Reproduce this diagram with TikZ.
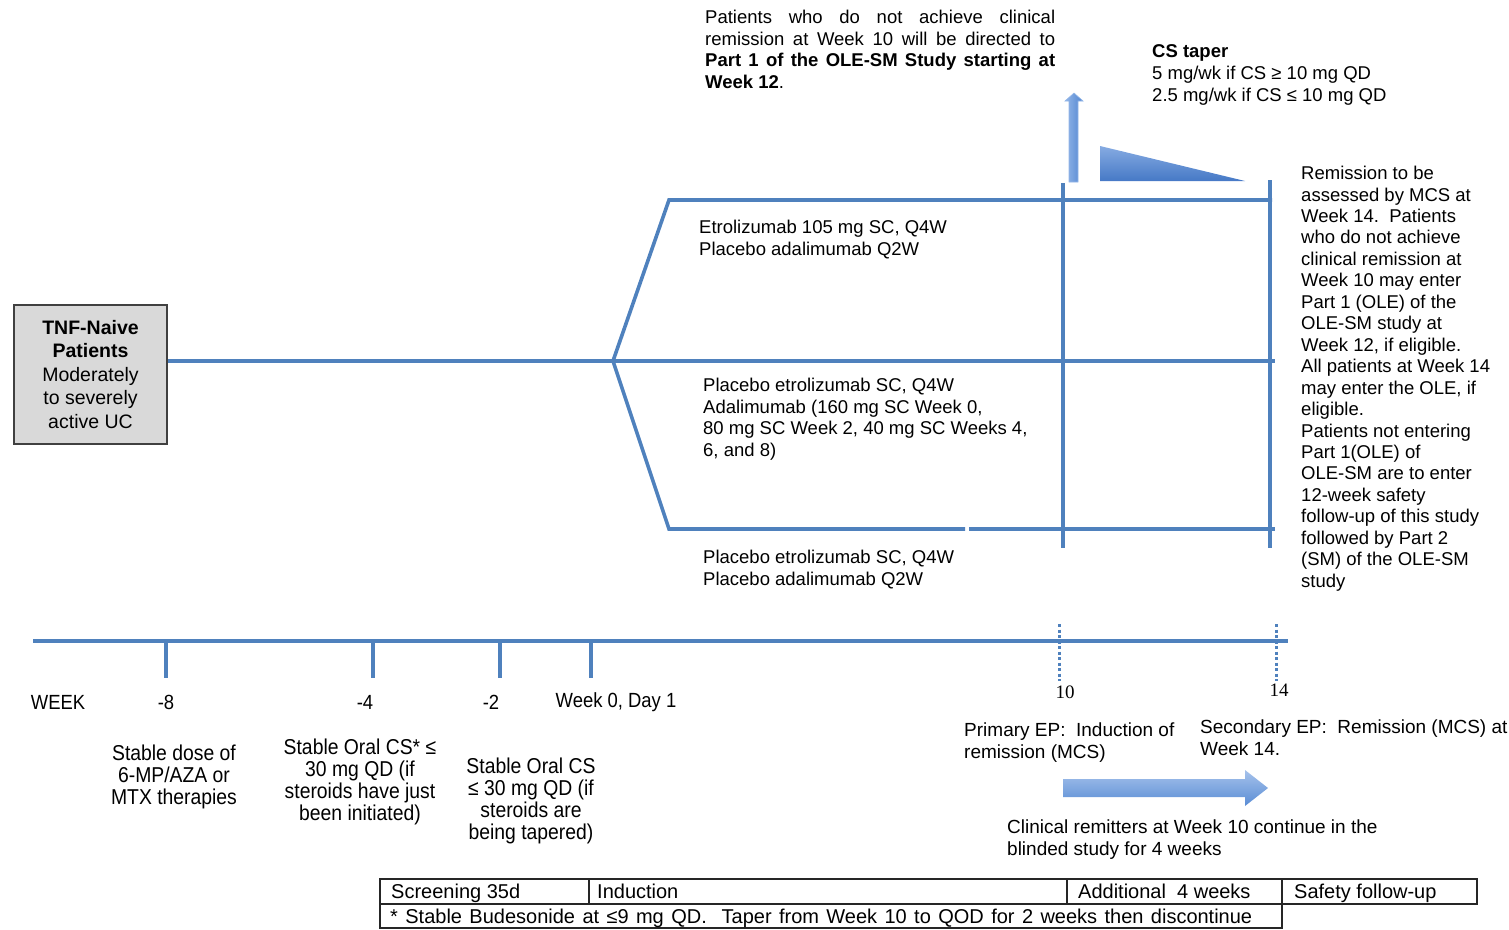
\documentclass[tikz,border=0pt]{standalone}
\usepackage{fontspec}
\setmainfont{Liberation Sans}
\newfontfamily\narrowfont[FakeStretch=0.9]{Liberation Sans}
\newfontfamily\numfont{Liberation Serif}
\definecolor{lineblue}{HTML}{4F81BD}
\definecolor{lightblue}{HTML}{A9C5EA}
\definecolor{arrowtop}{HTML}{A6C2EB}
\definecolor{arrowbot}{HTML}{5A8DD5}
\definecolor{uparrowl}{HTML}{93B6E8}
\definecolor{uparrowr}{HTML}{4F84D0}
\definecolor{tritop}{HTML}{86ABE2}
\definecolor{tribot}{HTML}{4679C6}
\definecolor{boxgray}{HTML}{D9D9D9}
\begin{document}
\begin{tikzpicture}[x=1pt,y=-1pt,
  blueline/.style={draw=lineblue, line width=3.6pt},
  maintext/.style={font=\fontsize{18.5}{21.6}\selectfont, align=left, inner sep=0pt, anchor=north west},
  ticklabel/.style={font=\narrowfont\fontsize{20.5}{22}\selectfont, inner sep=0pt},
  desc/.style={font=\narrowfont\fontsize{21.5}{22}\selectfont, align=center, inner sep=0pt},
  eptext/.style={font=\fontsize{19}{22}\selectfont, align=left, inner sep=0pt, anchor=west},
  tabline/.style={draw=black!85, line width=1.4pt},
  tabtext/.style={font=\fontsize{20}{24}\selectfont, inner sep=0pt, anchor=base west},
]
\useasboundingbox (0,0) rectangle (1509,929);

% ---------- patient box ----------
\node[draw=black!75, line width=1.5pt, fill=boxgray, minimum width=153pt, minimum height=139pt,
      align=center, inner sep=0pt, font=\fontsize{19.5}{23.5}\selectfont] (tnf) at (90.5,374.5)
  {\textbf{TNF-Naive}\\\textbf{Patients}\\Moderately\\to severely\\active UC};

% ---------- arms ----------
\coordinate (split) at (613,361);
\coordinate (up1) at (669,200);
\coordinate (up2) at (1272,200);
\coordinate (mid2) at (1275,361);
\coordinate (lo1) at (669,529);
\coordinate (lo2) at (1275,529);
\coordinate (gapl) at (965,529);
\coordinate (gapr) at (969,529);
\draw[blueline] (tnf.east |- split) -- (split);
\draw[blueline, line join=miter] (split) -- (up1) -- (up2);
\draw[blueline] (split) -- (mid2);
\draw[blueline, line join=miter] (split) -- (lo1) -- (gapl);
\draw[blueline] (gapr) -- (lo2);
\coordinate (v10t) at (1063,183);
\coordinate (v10b) at (1063,548);
\coordinate (v14t) at (1270,180);
\coordinate (v14b) at (1270,548);
\draw[blueline] (v10t) -- (v10b);
\draw[blueline] (v14t) -- (v14b);

% up arrow
\shade[left color=uparrowl, right color=uparrowr, draw=uparrowl, line width=0.6pt]
  (1069,182) -- (1069,101) -- (1065,101) -- (1074,93) -- (1083,101) -- (1078,101) -- (1078,182) -- cycle;
% taper triangle
\shade[top color=tritop, bottom color=tribot]
  (1100,146) -- (1245,181) -- (1100,181) -- cycle;

% ---------- texts top ----------
\node[maintext, text width=350pt, align=justify] (topnote) at (705,10)
  {Patients who do not achieve clinical\linebreak remission at Week 10 will be directed to\linebreak
   \textbf{Part 1 of the OLE-SM Study starting at}\linebreak \textbf{Week 12}.};
\node[maintext, font=\fontsize{18.5}{22}\selectfont] (taper) at (1152,44)
  {\textbf{CS taper}\\5 mg/wk if CS ≥ 10 mg QD\\2.5 mg/wk if CS ≤ 10 mg QD};

\node[maintext] (arm1) at (699,220)
  {Etrolizumab 105 mg SC, Q4W\\Placebo adalimumab Q2W};
\node[maintext] (arm2) at (703,378)
  {Placebo etrolizumab SC, Q4W\\Adalimumab (160 mg SC Week 0,\\80 mg SC Week 2, 40 mg SC Weeks 4,\\6, and 8)};
\node[maintext] (arm3) at (703,550)
  {Placebo etrolizumab SC, Q4W\\Placebo adalimumab Q2W};

\node[maintext, font=\fontsize{18.5}{21.45}\selectfont] (rightnote) at (1301,166)
  {Remission to be\\assessed by MCS at\\Week 14.\ \ Patients\\who do not achieve\\clinical remission at\\Week 10 may enter\\
   Part 1 (OLE) of the\\OLE-SM study at\\Week 12, if eligible.\\All patients at Week 14\\may enter the OLE, if\\eligible.\\
   Patients not entering\\Part 1(OLE) of\\OLE-SM are to enter\\12-week safety\\follow-up of this study\\followed by Part 2\\(SM) of the OLE-SM\\study};

% ---------- timeline ----------
\coordinate (tl0) at (33,641);
\coordinate (tl1) at (1288,641);
\draw[blueline] (tl0) -- (tl1);
\foreach \x/\n in {166/a,373/b,500/c,591/d}{
  \coordinate (t\n) at (\x,641);
  \coordinate (b\n) at (\x,678);
  \draw[blueline] (t\n) -- (b\n);
}
\coordinate (d10t) at (1059,624);
\coordinate (d10b) at (1059,681);
\coordinate (d14t) at (1276,624);
\coordinate (d14b) at (1276,681);
\draw[draw=lineblue, line width=3pt, dash pattern=on 3pt off 2.5pt] (d10t) -- (d10b);
\draw[draw=lineblue, line width=3pt, dash pattern=on 3pt off 2.5pt] (d14t) -- (d14b);

\node[ticklabel] (lweek) at (58,702) {WEEK};
\node[ticklabel] (lm8) at (166,702) {-8};
\node[ticklabel] (lm4) at (365,702) {-4};
\node[ticklabel] (lm2) at (491,702) {-2};
\node[ticklabel] (lw0) at (616,702) {Week 0, Day 1};
\node[inner sep=0pt, font=\numfont\fontsize{19}{22}\selectfont] (l10) at (1065,692) {10};
\node[inner sep=0pt, font=\numfont\fontsize{19}{22}\selectfont] (l14) at (1279,690) {14};

\node[desc] (dm8) at (174,777) {Stable dose of\\6-MP/AZA or\\MTX therapies};
\node[desc] (dm4) at (360,782) {Stable Oral CS* ≤\\30 mg QD (if\\steroids have just\\been initiated)};
\node[desc] (dm2) at (531,800.5) {Stable Oral CS\\≤ 30 mg QD (if\\steroids are\\being tapered)};

\node[eptext] (ep1) at (964,743) {Primary EP:\ \ Induction of\\remission (MCS)};
\node[eptext] (ep2) at (1200,737.5) {Secondary EP:\ \ Remission (MCS) at\\Week 14.};

\shade[top color=arrowtop, bottom color=arrowbot]
  (1063,779) -- (1245,779) -- (1245,770) -- (1268,788) -- (1245,806) -- (1245,797) -- (1063,797) -- cycle;
\node[eptext] (remit) at (1007,840) {Clinical remitters at Week 10 continue in the\\blinded study for 4 weeks};

% ---------- table ----------
\draw[tabline] (380,879) rectangle (1477,904);
\draw[tabline] (380,904) rectangle (1282,928);
\coordinate (c1t) at (589,879); \coordinate (c1b) at (589,904);
\coordinate (c2t) at (1067,879); \coordinate (c2b) at (1067,904);
\coordinate (c3t) at (1282,879); \coordinate (c3b) at (1282,904);
\draw[tabline] (c1t) -- (c1b);
\draw[tabline] (c2t) -- (c2b);
\draw[tabline] (c3t) -- (c3b);
\node[tabtext] (s1) at (391,898.5) {Screening 35d};
\node[tabtext] (s2) at (597,898.5) {Induction};
\node[tabtext] (s3) at (1078,898.5) {Additional\ \ 4 weeks};
\node[tabtext] (s4) at (1294,898.5) {Safety follow-up};
\node[tabtext] (foot) at (390,923) {\hbox to 862pt{* Stable Budesonide at ≤9 mg QD.\ \ Taper from Week 10 to QOD for 2 weeks then discontinue}};
\end{tikzpicture}
\end{document}
